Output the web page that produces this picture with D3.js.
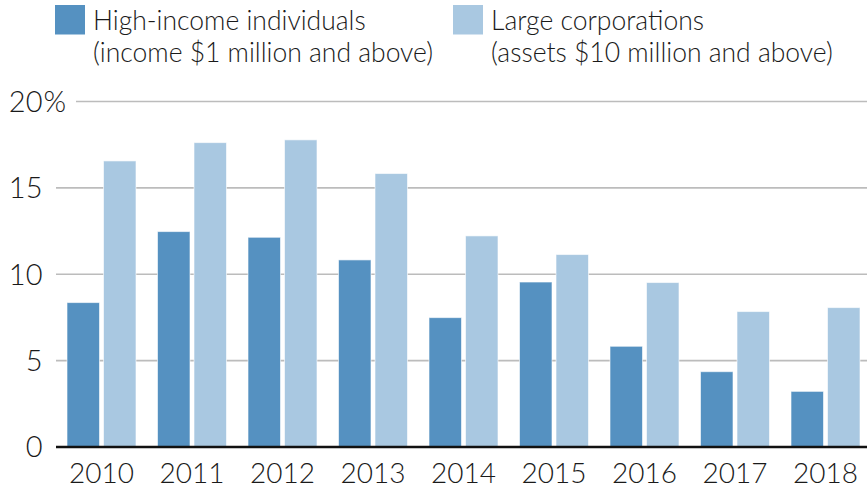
<!DOCTYPE html>
<html><head><meta charset="utf-8">
<script src="https://cdn.jsdelivr.net/npm/d3@7"></script>
<style>
body{margin:0;background:#fff;}
svg{display:block;font-family:Lato,"Open Sans",sans-serif;font-weight:300;}
</style></head>
<body>
<svg id="chart" width="867" height="491"></svg>
<script>
const years = ["2010","2011","2012","2013","2014","2015","2016","2017","2018"];
const highIncome = [8.36, 12.47, 12.14, 10.83, 7.49, 9.55, 5.83, 4.36, 3.22];
const largeCorps = [16.56, 17.62, 17.78, 15.83, 12.22, 11.14, 9.52, 7.84, 8.07];
const seriesNames = ["High-income individuals", "Large corporations"];
const seriesSub = ["(income $1 million and above)", "(assets $10 million and above)"];
const colors = ["#5591c1", "#a9c8e1"];
const yTicks = [0, 5, 10, 15, 20];

const svg = d3.select("#chart");
const y = d3.scaleLinear().domain([0, 20]).range([447, 101.5]);
const x = d3.scaleBand().domain(years).range([67, 860]).paddingInner(0.2376).paddingOuter(0);
const xs = d3.scaleBand().domain([0, 1]).range([0, x.bandwidth()]).paddingInner(0.1096);

// gridlines
svg.append("g").selectAll("line").data(yTicks.filter(d => d > 0)).join("line")
  .attr("x1", d => d === 20 ? 76 : 56).attr("x2", 867)
  .attr("y1", d => y(d)).attr("y2", d => y(d))
  .attr("stroke", "#bcbcbc").attr("stroke-width", 1.6);

// y labels
svg.append("g").selectAll("text").data(yTicks).join("text")
  .attr("x", 42.5).attr("y", d => y(d)).attr("dy", "0.36em")
  .attr("text-anchor", "end").attr("font-size", 29).attr("fill", "#1a1a1a")
  .text(d => d);
svg.append("text").attr("x", 43.5).attr("y", y(20)).attr("dy", "0.36em")
  .attr("font-size", 29).attr("fill", "#1a1a1a").text("%");

// bars
const data = years.map((yr, i) => ({yr, vals: [highIncome[i], largeCorps[i]]}));
const g = svg.append("g").selectAll("g").data(data).join("g")
  .attr("transform", d => `translate(${x(d.yr)},0)`);
g.selectAll("rect").data(d => d.vals.map((v, k) => ({v, k}))).join("rect")
  .attr("x", d => xs(d.k)).attr("width", xs.bandwidth())
  .attr("y", d => y(d.v)).attr("height", d => y(0) - y(d.v))
  .attr("fill", d => colors[d.k])
  .attr("stroke", "#fff").attr("stroke-opacity", 0.6).attr("stroke-width", 1);

// baseline
svg.append("line").attr("x1", 56).attr("x2", 867).attr("y1", y(0)).attr("y2", y(0))
  .attr("stroke", "#111").attr("stroke-width", 2.6);

// x labels
svg.append("g").selectAll("text").data(years).join("text")
  .attr("x", d => x(d) + x.bandwidth() / 2).attr("y", 483)
  .attr("text-anchor", "middle").attr("font-size", 28).attr("fill", "#1a1a1a")
  .text(d => d);

// legend
const legX = [55, 453];
seriesNames.forEach((name, i) => {
  svg.append("rect").attr("x", legX[i]).attr("y", 5).attr("width", 30).attr("height", 29.5)
    .attr("fill", colors[i]);
  const t = svg.append("text").attr("x", legX[i] + 38).attr("font-size", 26.5).attr("fill", "#1a1a1a");
  t.append("tspan").attr("x", legX[i] + 38).attr("y", 29.5).text(name);
  t.append("tspan").attr("x", legX[i] + 38).attr("y", 62).text(seriesSub[i]);
});
</script>
</body></html>
